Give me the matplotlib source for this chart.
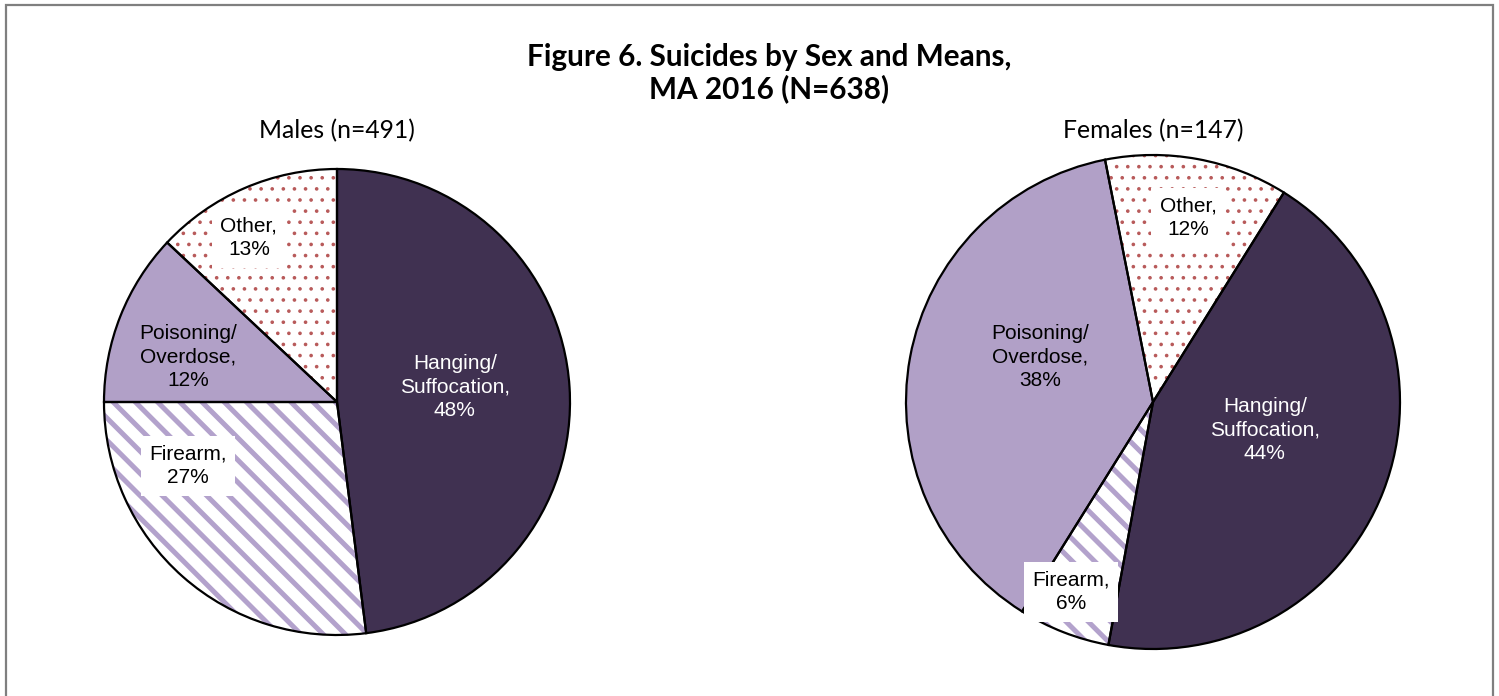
"""
Figure 6 - suicides par sexe et moyen, deux camemberts côte à côte.
"""
import matplotlib
matplotlib.use('Agg')
import matplotlib.pyplot as plt
from matplotlib.patches import Rectangle

# Données (pourcentages)
categories = ['Hanging/\nSuffocation', 'Firearm', 'Poisoning/\nOverdose', 'Other']
male_pct = [48, 27, 12, 13]
female_pct = [44, 6, 38, 12]
male_title = 'Males (n=491)'
female_title = 'Females (n=147)'
fig_title = 'Figure 6. Suicides by Sex and Means,\nMA 2016 (N=638)'

# Styles par catégorie : (couleur de fond, couleur du motif, motif, largeur motif)
styles = [
    ('#403151', '#403151', None, 0.5),
    ('white', '#B3A2CC', '\\\\\\', 1.8),
    ('#B1A0C7', '#B1A0C7', None, 0.5),
    ('white', '#B85A5A', '...', 0.5),
]
text_colors = ['white', 'black', 'black', 'black']
boxed = [False, True, False, True]

# Mise en page (pixels de la figure 1499x696)
W, H, DPI = 1499, 696, 200
male_layout = dict(cx=337, cy=402, r=233, start=90,
                   label_xy=[(0.506, 0.064), (-0.64, -0.275), (-0.64, 0.193), (-0.378, 0.704)])
female_layout = dict(cx=1153, cy=402, r=247, start=58,
                     label_xy=[(0.453, -0.113), (-0.332, -0.769), (-0.457, 0.182), (0.142, 0.745)])

LABEL_FONT = ['Liberation Sans', 'DejaVu Sans']
TITLE_FONT = ['Lato', 'DejaVu Sans']

fig = plt.figure(figsize=(W / DPI, H / DPI), dpi=DPI)


def draw_pie(values, layout):
    cx, cy, r = layout['cx'], layout['cy'], layout['r']
    ax = fig.add_axes([(cx - r) / W, (H - cy - r) / H, 2 * r / W, 2 * r / H])
    # Remplissage et motifs (sans contour)
    wedges, _ = ax.pie(values, startangle=layout['start'], counterclock=False,
                       wedgeprops=dict(linewidth=0))
    for w, (fc, hc, hatch, hlw) in zip(wedges, styles):
        w.set_facecolor(fc)
        w.set_edgecolor(hc)
        if hatch:
            w.set_hatch(hatch)
        if hasattr(w, 'set_hatch_linewidth'):
            w.set_hatch_linewidth(hlw)
    # Contours noirs par-dessus
    ax.pie(values, startangle=layout['start'], counterclock=False,
           wedgeprops=dict(facecolor='none', edgecolor='black', linewidth=0.8))
    # Étiquettes de données
    for cat, v, (lx, ly), tc, bx in zip(categories, values, layout['label_xy'],
                                        text_colors, boxed):
        kw = {}
        if bx:
            kw['bbox'] = dict(boxstyle='square,pad=0.4', facecolor='white', edgecolor='none')
        ax.text(lx, ly, f'{cat},\n{v}%', ha='center', va='center', color=tc,
                fontsize=7.5, family=LABEL_FONT, linespacing=1.3, **kw)
    ax.set_xlim(-1, 1)
    ax.set_ylim(-1, 1)
    ax.set_aspect('equal')
    ax.axis('off')
    return ax


draw_pie(male_pct, male_layout)
draw_pie(female_pct, female_layout)

fig.text(769 / W, 1 - 73 / H, fig_title, ha='center', va='center', fontsize=10.7,
         fontweight='bold', family=TITLE_FONT, linespacing=1.1)
fig.text(male_layout['cx'] / W, 1 - 131 / H, male_title, ha='center', va='center',
         fontsize=8.9, family=TITLE_FONT)
fig.text(female_layout['cx'] / W, 1 - 131 / H, female_title, ha='center', va='center',
         fontsize=8.9, family=TITLE_FONT)

# Cadre gris de la zone de graphique (coupé en bas)
fig.patches.append(Rectangle((5.5 / W, -0.02), (1493 - 5.5) / W, 1 - 5 / H + 0.02,
                             transform=fig.transFigure, fill=False,
                             edgecolor='#7F7F7F', linewidth=0.8))

fig.savefig('out.png', dpi=DPI)
